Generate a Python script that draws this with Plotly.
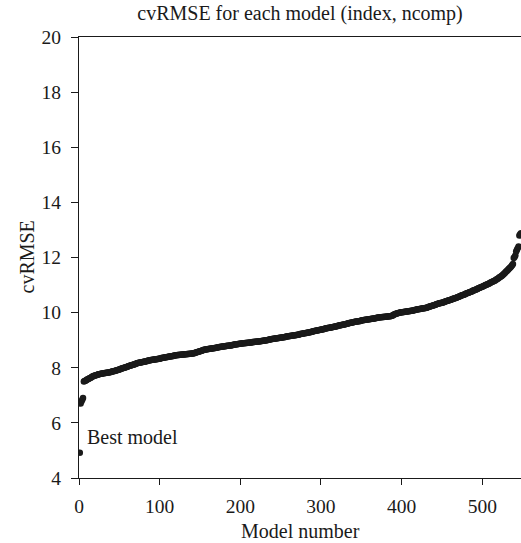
import plotly.graph_objects as go

# cvRMSE of each model, sorted ascending (model number = position, 1..548)
cvrmse = [
    4.92, 6.70, 6.78, 6.84, 6.90,
    7.50, 7.52, 7.53, 7.55, 7.57,
    7.58, 7.60, 7.62, 7.63, 7.65, 7.67, 7.68, 7.70, 7.71, 7.72,
    7.73, 7.74, 7.75, 7.76, 7.76, 7.77, 7.78, 7.78, 7.79, 7.80,
    7.80, 7.81, 7.81, 7.82, 7.82, 7.83, 7.83, 7.84, 7.85, 7.85,
    7.86, 7.87, 7.87, 7.88, 7.89, 7.90, 7.91, 7.92, 7.93, 7.94,
    7.95, 7.96, 7.97, 7.98, 7.99, 8.00, 8.01, 8.02, 8.03, 8.04,
    8.05, 8.06, 8.07, 8.08, 8.09, 8.10, 8.11, 8.12, 8.13, 8.14,
    8.15, 8.16, 8.17, 8.18, 8.18, 8.19, 8.20, 8.20, 8.21, 8.22,
    8.22, 8.23, 8.24, 8.24, 8.25, 8.26, 8.26, 8.27, 8.28, 8.28,
    8.29, 8.29, 8.30, 8.30, 8.31, 8.31, 8.32, 8.32, 8.33, 8.33,
    8.34, 8.35, 8.35, 8.36, 8.36, 8.37, 8.38, 8.38, 8.39, 8.39,
    8.40, 8.41, 8.41, 8.42, 8.42, 8.43, 8.43, 8.44, 8.44, 8.45,
    8.45, 8.46, 8.46, 8.46, 8.47, 8.47, 8.47, 8.48, 8.48, 8.48,
    8.49, 8.49, 8.49, 8.50, 8.50, 8.50, 8.51, 8.51, 8.51, 8.52,
    8.52, 8.53, 8.53, 8.54, 8.55, 8.56, 8.57, 8.58, 8.59, 8.60,
    8.61, 8.62, 8.63, 8.64, 8.65, 8.65, 8.66, 8.67, 8.67, 8.68,
    8.68, 8.69, 8.69, 8.70, 8.70, 8.71, 8.71, 8.72, 8.72, 8.73,
    8.73, 8.74, 8.74, 8.75, 8.75, 8.76, 8.76, 8.77, 8.77, 8.78,
    8.78, 8.79, 8.79, 8.80, 8.80, 8.80, 8.81, 8.81, 8.82, 8.82,
    8.83, 8.83, 8.84, 8.84, 8.85, 8.85, 8.86, 8.86, 8.87, 8.87,
    8.88, 8.88, 8.89, 8.89, 8.89, 8.90, 8.90, 8.90, 8.91, 8.91,
    8.91, 8.92, 8.92, 8.92, 8.93, 8.93, 8.93, 8.94, 8.94, 8.94,
    8.95, 8.95, 8.95, 8.96, 8.96, 8.97, 8.97, 8.98, 8.98, 8.99,
    8.99, 9.00, 9.00, 9.01, 9.02, 9.02, 9.03, 9.03, 9.04, 9.04,
    9.05, 9.05, 9.06, 9.06, 9.07, 9.07, 9.08, 9.08, 9.09, 9.09,
    9.10, 9.10, 9.11, 9.11, 9.12, 9.12, 9.13, 9.13, 9.14, 9.14,
    9.15, 9.15, 9.16, 9.16, 9.17, 9.17, 9.18, 9.18, 9.19, 9.19,
    9.20, 9.20, 9.21, 9.22, 9.22, 9.23, 9.23, 9.24, 9.25, 9.25,
    9.26, 9.26, 9.27, 9.28, 9.28, 9.29, 9.30, 9.30, 9.31, 9.32,
    9.32, 9.33, 9.34, 9.34, 9.35, 9.36, 9.36, 9.37, 9.38, 9.38,
    9.39, 9.40, 9.40, 9.41, 9.42, 9.42, 9.43, 9.44, 9.44, 9.45,
    9.45, 9.46, 9.47, 9.47, 9.48, 9.49, 9.49, 9.50, 9.51, 9.51,
    9.52, 9.53, 9.53, 9.54, 9.55, 9.55, 9.56, 9.57, 9.57, 9.58,
    9.59, 9.60, 9.60, 9.61, 9.62, 9.62, 9.63, 9.64, 9.64, 9.65,
    9.66, 9.67, 9.67, 9.68, 9.68, 9.69, 9.69, 9.70, 9.70, 9.71,
    9.72, 9.72, 9.73, 9.73, 9.74, 9.74, 9.75, 9.75, 9.76, 9.76,
    9.77, 9.77, 9.78, 9.78, 9.79, 9.79, 9.80, 9.80, 9.81, 9.81,
    9.82, 9.82, 9.83, 9.83, 9.83, 9.84, 9.84, 9.84, 9.85, 9.85,
    9.85, 9.86, 9.86, 9.87, 9.87, 9.87, 9.88, 9.89, 9.90, 9.92,
    9.93, 9.95, 9.96, 9.97, 9.98, 9.99, 10.00, 10.00, 10.01, 10.01,
    10.01, 10.02, 10.02, 10.03, 10.03, 10.04, 10.04, 10.05, 10.05, 10.06,
    10.06, 10.07, 10.07, 10.08, 10.09, 10.09, 10.10, 10.10, 10.11, 10.12,
    10.12, 10.13, 10.13, 10.14, 10.15, 10.15, 10.16, 10.16, 10.17, 10.17,
    10.18, 10.19, 10.20, 10.21, 10.22, 10.23, 10.24, 10.25, 10.26, 10.27,
    10.28, 10.29, 10.30, 10.31, 10.32, 10.33, 10.34, 10.35, 10.35, 10.36,
    10.37, 10.38, 10.39, 10.40, 10.41, 10.42, 10.43, 10.44, 10.45, 10.46,
    10.47, 10.48, 10.49, 10.50, 10.51, 10.52, 10.53, 10.54, 10.56, 10.57,
    10.58, 10.59, 10.60, 10.62, 10.63, 10.64, 10.65, 10.66, 10.68, 10.69,
    10.70, 10.71, 10.72, 10.74, 10.75, 10.76, 10.77, 10.79, 10.80, 10.81,
    10.82, 10.84, 10.85, 10.86, 10.88, 10.89, 10.90, 10.92, 10.93, 10.94,
    10.96, 10.97, 10.98, 11.00, 11.01, 11.02, 11.04, 11.05, 11.07, 11.08,
    11.10, 11.11, 11.13, 11.14, 11.16, 11.17, 11.19, 11.21, 11.23, 11.25,
    11.27, 11.29, 11.31, 11.33, 11.36, 11.38, 11.41, 11.44, 11.47, 11.50,
    11.53, 11.56, 11.59, 11.62, 11.65, 11.68, 11.72, 11.76,
    11.98, 12.02, 12.07, 12.22, 12.28, 12.34, 12.40,
    12.80, 12.84, 12.88,
]
model_number = list(range(1, len(cvrmse) + 1))

title_text = "cvRMSE for each model (index, ncomp)"
x_title = "Model number"
y_title = "cvRMSE"
best_label = "Best model"
x_ticks = [0, 100, 200, 300, 400, 500]
y_ticks = [4, 6, 8, 10, 12, 14, 16, 18, 20]

FONT = "Liberation Serif"
INK = "#1a1a1a"

fig = go.Figure()
fig.add_trace(go.Scatter(
    x=model_number, y=cvrmse, mode="markers",
    marker=dict(size=6.5, color=INK, line=dict(width=0)),
    hoverinfo="x+y", showlegend=False,
))

fig.add_annotation(
    x=7.4, y=5.49, xref="x", yref="y", text=best_label, showarrow=False,
    xanchor="left", yanchor="middle", font=dict(family=FONT, size=20, color=INK),
)
fig.add_annotation(
    x=0.5, y=0, xref="paper", yref="paper", yshift=-53, text=x_title,
    showarrow=False, xanchor="center", yanchor="middle",
    font=dict(family=FONT, size=20, color=INK),
)
fig.add_annotation(
    x=0, y=0.5, xref="paper", yref="paper", xshift=-53, text=y_title,
    textangle=-90, showarrow=False, xanchor="center", yanchor="middle",
    font=dict(family=FONT, size=20, color=INK),
)

fig.update_layout(
    width=521, height=543,
    margin=dict(l=79, r=0, t=37, b=65),
    paper_bgcolor="white", plot_bgcolor="white",
    font=dict(family=FONT, size=19.5, color=INK),
    title=dict(text=title_text, x=0.5, xref="paper", y=1 - 13 / 543,
               yref="container", xanchor="center", yanchor="middle",
               font=dict(family=FONT, size=20, color=INK)),
    xaxis=dict(range=[0, 548], tickvals=x_ticks, ticks="outside", ticklen=6,
               tickwidth=1, tickcolor=INK, showline=True, linecolor=INK,
               linewidth=1, mirror=True, showgrid=False, zeroline=False,
               ticklabelstandoff=5),
    yaxis=dict(range=[4, 20], tickvals=y_ticks, ticks="outside", ticklen=7,
               tickwidth=1, tickcolor=INK, showline=True, linecolor=INK,
               linewidth=1, showgrid=False, zeroline=False,
               ticklabelstandoff=6),
)

fig.write_html("out.html")
